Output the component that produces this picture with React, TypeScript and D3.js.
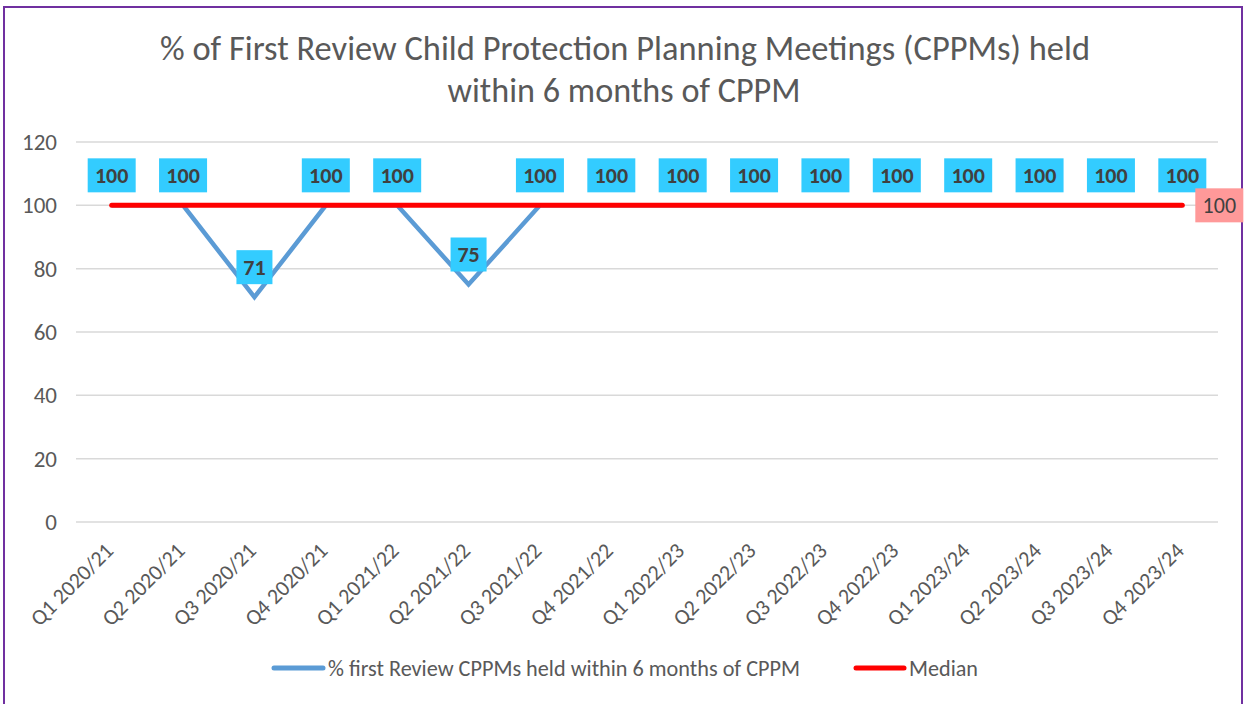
import React from 'react';
import * as d3 from 'd3';

const quarters = [
  'Q1 2020/21', 'Q2 2020/21', 'Q3 2020/21', 'Q4 2020/21',
  'Q1 2021/22', 'Q2 2021/22', 'Q3 2021/22', 'Q4 2021/22',
  'Q1 2022/23', 'Q2 2022/23', 'Q3 2022/23', 'Q4 2022/23',
  'Q1 2023/24', 'Q2 2023/24', 'Q3 2023/24', 'Q4 2023/24',
];
const pctHeld = [100, 100, 71, 100, 100, 75, 100, 100, 100, 100, 100, 100, 100, 100, 100, 100];
const median = [100, 100, 100, 100, 100, 100, 100, 100, 100, 100, 100, 100, 100, 100, 100, 100];
const yTicks = [0, 20, 40, 60, 80, 100, 120];

const W = 1245;
const H = 704;
const FONT = 'Calibri, Carlito, Lato, "Liberation Sans", Arial, sans-serif';

export default function App() {
  const margin = { left: 76, right: 27, top: 142, bottom: 182 };
  const x = d3.scaleBand<string>()
    .domain(quarters)
    .range([margin.left, W - margin.right]);
  const y = d3.scaleLinear().domain([0, 120]).range([H - margin.bottom, margin.top]);
  const cx = (q: string) => (x(q) as number) + x.bandwidth() / 2;

  const line = d3.line<number>()
    .x((_, i) => cx(quarters[i]))
    .y(d => y(d));

  const last = quarters[quarters.length - 1];
  const lastMed = median[median.length - 1];

  return (
    <svg width={W} height={H} style={{ position: 'absolute', left: 0, top: 0, fontFamily: FONT }}>
      <rect x={0} y={0} width={W} height={H} fill="#fff" />
      <rect x={4} y={7} width={1238} height={700} fill="#fff" stroke="#7030A0" strokeWidth={2} />

      {/* title */}
      <text x={625} y={60} textAnchor="middle" fontSize={34} fill="#595959"
        textLength={930} lengthAdjust="spacingAndGlyphs">
        % of First Review Child Protection Planning Meetings (CPPMs) held
      </text>
      <text x={624} y={102} textAnchor="middle" fontSize={34} fill="#595959"
        textLength={353} lengthAdjust="spacingAndGlyphs">
        within 6 months of CPPM
      </text>

      {/* grid + y axis */}
      {yTicks.map(t => (
        <g key={t}>
          <line x1={margin.left} x2={W - margin.right} y1={y(t)} y2={y(t)} stroke="#d9d9d9" strokeWidth={1.5} />
          <text x={57} y={y(t)} dy="0.35em" textAnchor="end" fontSize={23} fill="#595959">{t}</text>
        </g>
      ))}

      {/* x labels */}
      {quarters.map(q => (
        <text key={q} transform={`translate(${cx(q) + 3},${y(0) + 30}) rotate(-45)`}
          textAnchor="end" fontSize={22} fill="#595959">{q}</text>
      ))}

      {/* series */}
      <path d={line(pctHeld) || ''} fill="none" stroke="#5B9BD5" strokeWidth={4.5} strokeLinejoin="miter" />
      <path d={line(median) || ''} fill="none" stroke="#FF0000" strokeWidth={5} strokeLinecap="round" />

      {/* data labels */}
      {pctHeld.map((v, i) => {
        const bx = cx(quarters[i]);
        const by = y(v) - 30;
        const label = String(v);
        const bw = label.length === 3 ? 48 : 36;
        return (
          <g key={i}>
            <rect x={bx - bw / 2} y={by - 17} width={bw} height={34} fill="#33CCFF" />
            <text x={bx} y={by} dy="0.35em" textAnchor="middle" fontSize={22} fontWeight="bold" fill="#404040">{label}</text>
          </g>
        );
      })}

      {/* median end label */}
      <rect x={cx(last) + 13} y={y(lastMed) - 17} width={48} height={34} fill="#FF9999" />
      <text x={cx(last) + 37} y={y(lastMed)} dy="0.35em" textAnchor="middle" fontSize={22} fill="#404040">
        {lastMed}
      </text>

      {/* legend */}
      <g fontSize={22.5} fill="#595959">
        <line x1={274} x2={323} y1={668} y2={668} stroke="#5B9BD5" strokeWidth={5} strokeLinecap="round" />
        <text x={328} y={676} textLength={472} lengthAdjust="spacingAndGlyphs">
          % first Review CPPMs held within 6 months of CPPM
        </text>
        <line x1={856} x2={904} y1={668} y2={668} stroke="#FF0000" strokeWidth={5} strokeLinecap="round" />
        <text x={909} y={676} textLength={69} lengthAdjust="spacingAndGlyphs">Median</text>
      </g>
    </svg>
  );
}
